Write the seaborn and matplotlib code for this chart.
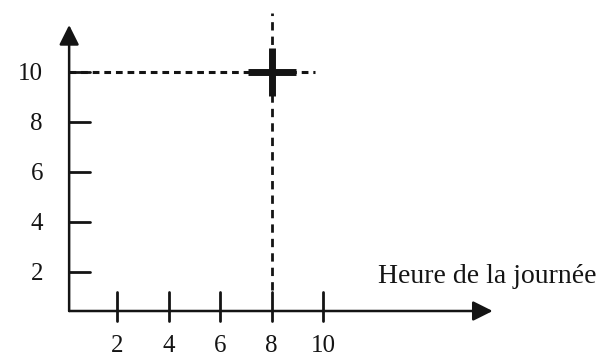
import matplotlib
matplotlib.use("Agg")
import matplotlib.pyplot as plt
import seaborn as sns
import pandas as pd

# data
x_ticks = [2, 4, 6, 8, 10]
y_ticks = [2, 4, 6, 8, 10]
x_tick_labels = ["2", "4", "6", "8", "10"]
y_tick_labels = ["2", "4", "6", "8", "10"]
point_x = [8]
point_y = [10]
x_label = "Heure de la journée"

sns.set_theme(style="white")
plt.rcParams['font.family'] = ['Liberation Serif', 'DejaVu Serif']
ink = "#141414"

fig = plt.figure(figsize=(6.14, 3.58), dpi=100)
ax = fig.add_axes([0, 0, 1, 1])
ax.set_xlim(-2.57, 21.32)
ax.set_ylim(-1.44, 12.88)
ax.axis("off")

# hand drawn axes do not cross exactly at 0
ax0x, ax0y = 0.12, 0.44

# axes with arrows
arrow = dict(arrowstyle="-|>,head_length=0.6,head_width=0.3", color=ink,
             lw=1.8, shrinkA=0, shrinkB=0, mutation_scale=20)
ax.annotate("", xy=(16.6, ax0y), xytext=(ax0x, ax0y), arrowprops=arrow)
ax.annotate("", xy=(ax0x, 11.88), xytext=(ax0x, ax0y), arrowprops=arrow)

# tick marks
for t in x_ticks:
    ax.plot([t, t], [0.04, 1.2], color=ink, lw=2)
for t in y_ticks:
    ax.plot([ax0x, 0.93], [t, t], color=ink, lw=2)

# tick labels
for t, lab in zip(x_ticks, x_tick_labels):
    ax.text(t, -1.22, lab, ha="center", va="baseline", fontsize=18, color=ink)
for t, lab in zip(y_ticks, y_tick_labels):
    ax.text(-0.9, t, lab, ha="right", va="center_baseline", fontsize=18, color=ink)

ax.text(12.14, 1.56, x_label, ha="left", va="baseline", fontsize=20, color=ink)

# dashed guide lines through the point
df_h = pd.DataFrame({"x": [ax0x, 9.7], "y": [point_y[0]] * 2})
df_v = pd.DataFrame({"x": [point_x[0]] * 2, "y": [1.28, 12.36]})
sns.lineplot(data=df_h, x="x", y="y", ax=ax, color=ink, lw=2.2,
             estimator=None, sort=False).lines[-1].set_dashes([2.2, 1.6])
sns.lineplot(data=df_v, x="x", y="y", ax=ax, color=ink, lw=2.0,
             estimator=None, sort=False).lines[-1].set_dashes([3, 2.2])

# the point
sns.scatterplot(x=point_x, y=point_y, ax=ax, marker="+", s=35 ** 2,
                color=ink, linewidth=5, zorder=5)

ax.set_xlabel("")
ax.set_ylabel("")
fig.savefig("out.png", dpi=100)
